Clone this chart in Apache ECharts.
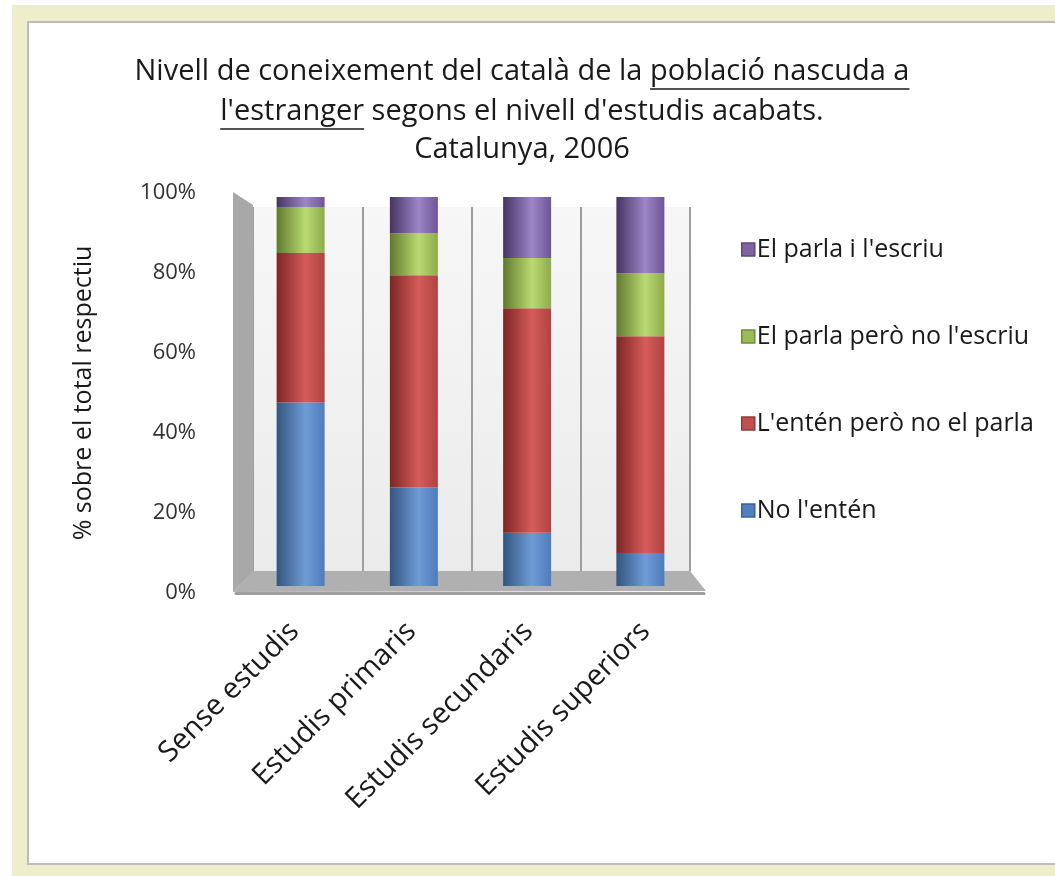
<!DOCTYPE html>
<html>
<head>
<meta charset="utf-8">
<script src="https://cdn.jsdelivr.net/npm/echarts@6/dist/echarts.min.js"></script>
<style>
html, body { margin: 0; padding: 0; background: #fff; }
#chart { width: 1055px; height: 876px; }
</style>
</head>
<body>
<div id="chart"></div>
<script>
// dades llegides del gràfic (percentatges)
var categories = ['Sense estudis', 'Estudis primaris', 'Estudis secundaris', 'Estudis superiors'];
var noEnten = [47.2, 25.3, 13.7, 8.5];
var entenNoParla = [38.4, 54.6, 57.7, 55.7];
var parlaNoEscriu = [11.8, 10.8, 12.9, 16.2];
var parlaEscriu = [2.6, 9.3, 15.7, 19.6];
var seriesNames = ["No l'entén", "L'entén però no el parla", "El parla però no l'escriu", "El parla i l'escriu"];

var myChart = echarts.init(document.getElementById('chart'));

var FONT = "'Open Sans', 'DejaVu Sans', sans-serif";
var titleSize = 29;

// amplada de text, per poder subratllar parts del títol
var ctx = document.createElement('canvas').getContext('2d');
function textW(t, size) {
    ctx.font = size + 'px ' + FONT;
    return ctx.measureText(t).width;
}

// una línia del títol amb un tros subratllat
function titleLine(parts, cx, y) {
    var total = 0, i;
    for (i = 0; i < parts.length; i++) total += textW(parts[i].t, titleSize);
    var x = cx - total / 2;
    var els = [];
    for (i = 0; i < parts.length; i++) {
        var w = textW(parts[i].t, titleSize);
        els.push({
            type: 'text', x: x, y: y, z: 10,
            style: { text: parts[i].t, fill: '#1a1a1a', font: titleSize + 'px ' + FONT, textAlign: 'left', textVerticalAlign: 'middle' }
        });
        if (parts[i].u) {
            els.push({
                type: 'line', z: 10,
                shape: { x1: x, y1: y + 17, x2: x + w, y2: y + 17 },
                style: { stroke: '#1a1a1a', lineWidth: 1.5 }
            });
        }
        x += w;
    }
    return els;
}

function cyl(dark, light, mid) {
    return new echarts.graphic.LinearGradient(0, 0, 1, 0, [
        { offset: 0, color: dark },
        { offset: 0.6, color: light },
        { offset: 1, color: mid }
    ]);
}

var colors = [
    { solid: '#4f81bd', border: '#3a6398', g: cyl('#33557f', '#6f9bd6', '#4e7cbc') },
    { solid: '#c0504d', border: '#943b39', g: cyl('#7c2624', '#d65c5a', '#b04341') },
    { solid: '#9bbb59', border: '#728c3d', g: cyl('#62792d', '#b9da73', '#8eac4a') },
    { solid: '#8064a2', border: '#5f4a7b', g: cyl('#463463', '#9d86c6', '#6d5597') }
];
var values = [noEnten, entenNoParla, parlaNoEscriu, parlaEscriu];

var series = [];
for (var s = 0; s < 4; s++) {
    series.push({
        name: seriesNames[s],
        type: 'bar',
        stack: 'total',
        xAxisIndex: 1,
        yAxisIndex: 1,
        barWidth: 48,
        itemStyle: { color: colors[s].g },
        data: values[s]
    });
}

var graphics = [
    // marc beix i panell blanc
    { type: 'rect', z: -100, shape: { x: 12, y: 5, width: 1100, height: 900 }, style: { fill: '#eeeecc' } },
    { type: 'rect', z: -99, shape: { x: 28, y: 22, width: 1100, height: 842 }, style: { fill: '#ffffff', stroke: '#bdbdbd', lineWidth: 2 } },
    // paret lateral i terra (efecte 3D)
    { type: 'polygon', z: 1, shape: { points: [[233, 192], [253, 205], [253, 572], [233, 592]] }, style: { fill: '#a8a8a8' } },
    { type: 'polygon', z: 1, shape: { points: [[233, 592], [253, 571], [690, 571], [706, 591]] }, style: { fill: '#b0b0b0' } }
];
graphics = graphics
    .concat(titleLine([{ t: 'Nivell de coneixement del català de la ' }, { t: 'població nascuda a', u: true }], 522, 72))
    .concat(titleLine([{ t: "l'estranger", u: true }, { t: " segons el nivell d'estudis acabats." }], 522, 112))
    .concat(titleLine([{ t: 'Catalunya, 2006' }], 522, 150));

var option = {
    backgroundColor: '#ffffff',
    animation: false,
    textStyle: { fontFamily: FONT },
    graphic: graphics,
    legend: {
        orient: 'vertical',
        left: 736,
        top: 232,
        itemWidth: 13,
        itemHeight: 13,
        itemGap: 62,
        icon: 'rect',
        textStyle: { fontSize: 25, color: '#1a1a1a', padding: [0, 0, 0, -3] },
        data: [3, 2, 1, 0].map(function (i) {
            return { name: seriesNames[i], itemStyle: { color: colors[i].solid, borderColor: colors[i].border, borderWidth: 1.5 } };
        })
    },
    grid: [
        // eix frontal
        { left: 236, right: 351, top: 193, bottom: 283 },
        // barres
        { left: 244, right: 358, top: 197, bottom: 290 },
        // paret del fons
        { left: 253, right: 365, top: 207, bottom: 305, show: true, borderWidth: 0,
          backgroundColor: new echarts.graphic.LinearGradient(0, 0, 0, 1, [
              { offset: 0, color: '#f7f7f7' }, { offset: 1, color: '#ebebeb' }]) }
    ],
    xAxis: [
        {
            type: 'category', gridIndex: 0, data: categories, z: 5,
            axisLine: { lineStyle: { color: '#9e9e9e', width: 3 } },
            axisTick: { length: 8, lineStyle: { color: '#9e9e9e', width: 3 } },
            axisLabel: { rotate: 45, fontSize: 29, color: '#1a1a1a', margin: 34 }
        },
        { type: 'category', gridIndex: 1, data: categories, show: false },
        {
            type: 'category', gridIndex: 2, data: categories,
            axisLine: { show: false }, axisTick: { show: false, interval: 0 }, axisLabel: { show: false, interval: 0 },
            splitLine: { show: true, interval: 0, lineStyle: { color: '#9e9e9e', width: 2 } }
        }
    ],
    yAxis: [
        {
            type: 'value', gridIndex: 0, min: 0, max: 100, interval: 20,
            name: '% sobre el total respectiu',
            nameLocation: 'middle', nameRotate: 90, nameGap: 140,
            nameTextStyle: { fontSize: 25, color: '#1a1a1a' },
            axisLine: { show: false }, axisTick: { show: false }, splitLine: { show: false },
            axisLabel: { formatter: '{value}%', fontSize: 22, color: '#333', margin: 40 }
        },
        { type: 'value', gridIndex: 1, min: 0, max: 100, show: false, splitLine: { show: false } },
        { type: 'value', gridIndex: 2, min: 0, max: 100, show: false, splitLine: { show: false } }
    ],
    series: series
};

myChart.setOption(option);
</script>
</body>
</html>
